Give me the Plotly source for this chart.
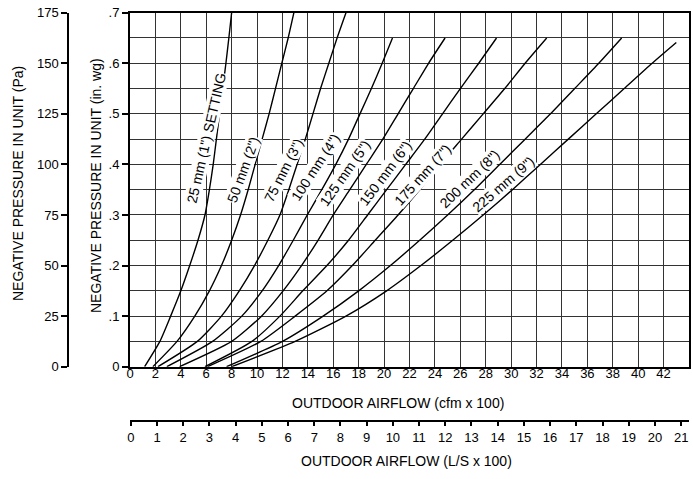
import plotly.graph_objects as go

# ---------------- data ----------------
settings = ['25 mm (1") SETTING', '50 mm (2")', '75 mm (3")', '100 mm (4")', '125 mm (5")',
            '150 mm (6")', '175 mm (7")', '200 mm (8")', '225 mm (9")']

p_full = [0, .05, .10, .15, .20, .25, .30, .35, .40, .45, .50, .55, .60, .65, .70]
p_065 = [0, .05, .10, .15, .20, .25, .30, .35, .40, .45, .50, .55, .60, .65]
p_064 = [0, .05, .10, .15, .20, .25, .30, .35, .40, .45, .50, .55, .60, .641]

cfm_25mm = [1.15, 2.35, 3.2, 4.0, 4.7, 5.35, 5.9, 6.25, 6.55, 6.8, 7.05, 7.3, 7.55, 7.78, 8.0]
cfm_50mm = [1.8, 3.7, 5.1, 6.25, 7.2, 8.0, 8.7, 9.3, 9.85, 10.4, 10.95, 11.45, 11.95, 12.45, 12.9]
cfm_75mm = [2.2, 5.3, 7.2, 8.6, 9.8, 10.85, 11.8, 12.5, 13.15, 13.8, 14.4, 15.0, 15.65, 16.3, 17.0]
cfm_100mm = [2.9, 6.5, 8.8, 10.4, 11.7, 12.85, 13.95, 15.1, 16.2, 17.2, 18.1, 19.0, 19.85, 20.66]
cfm_125mm = [3.9, 8.0, 10.35, 12.05, 13.5, 14.8, 16.0, 17.3, 18.6, 19.9, 21.1, 22.3, 23.5, 24.8]
cfm_150mm = [5.9, 9.6, 11.8, 13.6, 15.5, 17.2, 18.7, 20.2, 21.7, 23.2, 24.6, 26.0, 27.45, 28.85]
cfm_175mm = [6.1, 10.3, 13.0, 15.5, 17.5, 19.3, 21.1, 22.8, 24.4, 26.1, 27.8, 29.5, 31.1, 32.8]
cfm_200mm = [7.6, 12.0, 15.2, 18.0, 20.5, 22.8, 25.0, 27.1, 29.1, 31.1, 33.1, 35.0, 36.9, 38.7]
cfm_225mm = [8.0, 13.0, 17.0, 20.2, 22.9, 25.4, 27.8, 30.1, 32.3, 34.5, 36.7, 38.9, 41.1, 43.0]

curves = [(cfm_25mm, p_full), (cfm_50mm, p_full), (cfm_75mm, p_full), (cfm_100mm, p_065),
          (cfm_125mm, p_065), (cfm_150mm, p_065), (cfm_175mm, p_065), (cfm_200mm, p_065),
          (cfm_225mm, p_064)]

cfm_ticks = list(range(0, 43, 2))
inwg_ticks = [0, .1, .2, .3, .4, .5, .6, .7]
inwg_text = ['0', '.1', '.2', '.3', '.4', '.5', '.6', '.7']
pa_ticks = [0, 25, 50, 75, 100, 125, 150, 175]
ls_ticks = list(range(0, 22))

# ---------------- layout helpers ----------------
W, H = 693, 479
FONT = 'Liberation Sans, Arial, Helvetica, sans-serif'
def fx(px):
    return px / W
def fy(py):
    return 1 - py / H

X0, X1 = 130, 689
Y0, Y1 = 366.7, 12.7

fig = go.Figure()
for (xs, ys) in curves:
    fig.add_trace(go.Scatter(x=xs, y=ys, mode='lines', line=dict(color='black', width=1.4, shape='spline', smoothing=0.6),
                             hoverinfo='skip', showlegend=False))
# dummy traces so the secondary axes exist
fig.add_trace(go.Scatter(x=[None], y=[None], xaxis='x2', yaxis='y', showlegend=False, hoverinfo='skip'))
fig.add_trace(go.Scatter(x=[None], y=[None], xaxis='x', yaxis='y2', showlegend=False, hoverinfo='skip'))

grid = '#333333'
fig.update_layout(
    width=W, height=H, margin=dict(l=0, r=0, t=0, b=0, autoexpand=False),
    paper_bgcolor='white', plot_bgcolor='white', showlegend=False,
    font=dict(family=FONT, color='black', size=13),
    xaxis=dict(domain=[fx(X0), fx(X1)], range=[0, 44], tickvals=cfm_ticks, ticktext=[str(v) for v in cfm_ticks],
               showgrid=True, gridcolor=grid, gridwidth=1, zeroline=False, automargin=False,
               showline=True, linecolor='black', linewidth=1.6, mirror=True, ticks='', ticklen=0,
               tickfont=dict(size=13), ticklabelstandoff=-6, fixedrange=True),
    yaxis=dict(domain=[fy(Y0), fy(Y1)], range=[0, 0.7], tickvals=inwg_ticks, ticktext=inwg_text,
               showgrid=True, gridcolor=grid, gridwidth=1, zeroline=False, automargin=False,
               minor=dict(dtick=0.05, tick0=0, showgrid=True, gridcolor=grid, gridwidth=1, ticks=''),
               showline=True, linecolor='black', linewidth=2, mirror=True, ticks='outside', ticklen=6,
               tickcolor='black', tickwidth=1.5, tickfont=dict(size=13), fixedrange=True),
    yaxis2=dict(overlaying='y', anchor='free', position=fx(68.3), side='left', range=[0, 175],
                tickvals=pa_ticks, showgrid=False, zeroline=False, showline=True, linecolor='black',
                linewidth=2, ticks='outside', ticklen=6, tickcolor='black', tickwidth=1.5, automargin=False,
                tickfont=dict(size=13), fixedrange=True),
    xaxis2=dict(overlaying='x', anchor='free', position=fy(421), side='bottom',
                range=[-0.03, 21.3], tickvals=ls_ticks,
                showgrid=False, zeroline=False, showline=True, linecolor='black', linewidth=2,
                ticks='outside', ticklen=4, tickcolor='black', tickwidth=1.5, tickfont=dict(size=13),
                automargin=False, fixedrange=True),
)

annots = []
def title(text, px, py, angle=0):
    annots.append(dict(text=text, x=fx(px), y=fy(py), xref='paper', yref='paper', textangle=angle,
                       xanchor='center', yanchor='middle', showarrow=False, font=dict(size=14)))
title('NEGATIVE PRESSURE IN UNIT (Pa)', 18, 184, -90)
title('NEGATIVE PRESSURE IN UNIT (in. wg)', 96, 186, -90)
title('OUTDOOR AIRFLOW (cfm x 100)', 398, 403)
title('OUTDOOR AIRFLOW (L/S x 100)', 406, 461)

# curve labels (positions in data units, rotation in degrees)
lab_x = [6.02, 8.95, 12.1, 14.6, 16.9, 20.1, 23.0, 26.7, 29.4]
lab_y = [0.452, 0.39, 0.389, 0.395, 0.384, 0.383, 0.380, 0.372, 0.361]
lab_a = [-77, -70, -63, -57, -55, -53, -48, -44, -41]
for t, lx, ly, la in zip(settings, lab_x, lab_y, lab_a):
    annots.append(dict(text=t, x=lx, y=ly, xref='x', yref='y', textangle=la, showarrow=False,
                       xanchor='center', yanchor='middle',
                       font=dict(size=14), bgcolor='white', borderpad=0))
fig.update_layout(annotations=annots)

fig.write_html('out.html', config={'displayModeBar': False},
               post_script="document.body.style.margin='0px';document.body.style.overflow='hidden';")
